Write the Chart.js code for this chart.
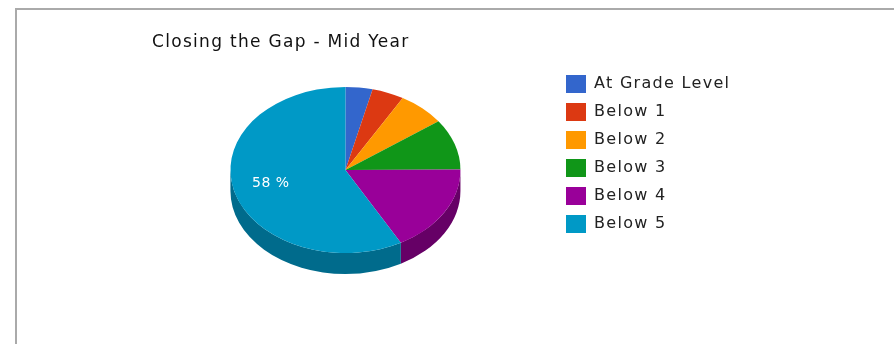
<!DOCTYPE html>
<html>
<head>
<meta charset="utf-8">
<title>Closing the Gap - Mid Year</title>
<script src="https://cdn.jsdelivr.net/npm/chart.js@4"></script>
<style>
  html, body { margin: 0; padding: 0; background: #fff; }
  body { width: 894px; height: 344px; overflow: hidden; position: relative; }
  #frame { position: absolute; left: 15px; top: 8px; right: 0; bottom: 0; border-top: 2px solid #aaa; border-left: 2px solid #aaa; }
  #pieChart { position: absolute; left: 0; top: 0; }
</style>
</head>
<body>
<div id="frame"></div>
<canvas id="pieChart" width="894" height="344"></canvas>
<script>
const chartTitle = 'Closing the Gap - Mid Year';
const levels = ['At Grade Level', 'Below 1', 'Below 2', 'Below 3', 'Below 4', 'Below 5'];
const shares = [3.8, 4.5, 6.7, 9.9, 17.1, 58];
const sliceColors = ['#3366cc', '#dc3912', '#ff9900', '#109618', '#990099', '#0099c6'];
const wallColors = ['#224488', '#93260c', '#aa6600', '#0b6410', '#660066', '#006b8c'];

const TILT = 83 / 115;   // vertical squash of the pie
const DEPTH = 21;        // height of the side wall
const LABEL_MIN_SHARE = 20;

// Chart.js only draws round pies, so the slices get squashed with a canvas
// transform and the rim is filled in underneath from the arc geometry.
const tiltedPie = {
  id: 'tiltedPie',
  beforeDraw(chart) {
    chart.ctx.letterSpacing = '1.3px';
  },
  afterLayout(chart) {
    chart.titleBlock.left = 152;
    chart.legend.left = 556;
    chart.legend.top = 65;
  },
  beforeDatasetsDraw(chart) {
    const ctx = chart.ctx;
    const arcs = chart.getDatasetMeta(0).data;
    const { x, y, outerRadius } = arcs[0];
    const ry = outerRadius * TILT;

    arcs.forEach((arc, i) => {
      const start = Math.max(arc.startAngle, 0);
      const end = Math.min(arc.endAngle, Math.PI);
      if (end <= start) return;
      ctx.beginPath();
      ctx.ellipse(x, y, outerRadius, ry, 0, start, end);
      ctx.ellipse(x, y + DEPTH, outerRadius, ry, 0, end, start, true);
      ctx.closePath();
      ctx.fillStyle = wallColors[i];
      ctx.fill();
    });

    ctx.save();
    ctx.translate(x, y);
    ctx.scale(1, TILT);
    ctx.translate(-x, -y);
  },
  afterDatasetsDraw(chart) {
    const ctx = chart.ctx;
    ctx.restore();

    chart.getDatasetMeta(0).data.forEach((arc, i) => {
      if (shares[i] < LABEL_MIN_SHARE) return;
      const mid = (arc.startAngle + arc.endAngle) / 2;
      const r = arc.outerRadius * 0.67;
      ctx.save();
      ctx.font = "14px 'DejaVu Sans'";
      ctx.fillStyle = '#fff';
      ctx.textAlign = 'center';
      ctx.textBaseline = 'middle';
      ctx.letterSpacing = '0.5px';
      ctx.fillText(`${shares[i]} %`, arc.x + Math.cos(mid) * r, arc.y + Math.sin(mid) * r * TILT);
      ctx.restore();
    });
  },
};

new Chart(document.getElementById('pieChart'), {
  type: 'pie',
  data: {
    labels: levels,
    datasets: [{
      data: shares,
      backgroundColor: sliceColors,
      borderWidth: 0,
    }],
  },
  options: {
    responsive: false,
    animation: false,
    events: [],
    layout: { padding: { left: 123, right: 160, top: 32, bottom: 59 } },
    plugins: {
      title: {
        display: true,
        text: chartTitle,
        align: 'start',
        color: '#111',
        font: { family: "'DejaVu Sans'", size: 17, weight: 'normal' },
        padding: { top: 0, bottom: 2.6 },
      },
      legend: {
        position: 'right',
        align: 'start',
        labels: {
          boxWidth: 20,
          boxHeight: 18,
          padding: 10,
          color: '#222',
          font: { family: "'DejaVu Sans'", size: 16 },
        },
      },
      tooltip: { enabled: false },
    },
  },
  plugins: [tiltedPie],
});
</script>
</body>
</html>
